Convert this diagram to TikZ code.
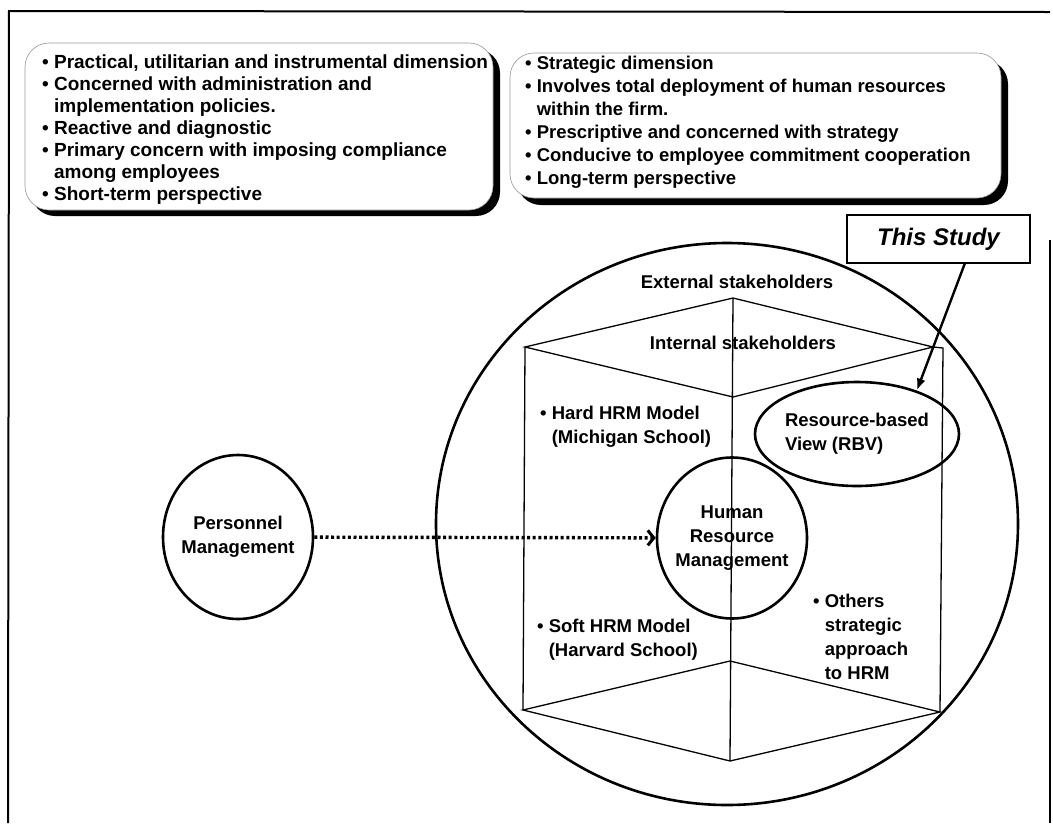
\documentclass[tikz,border=0pt]{standalone}
\usepackage{fontspec}
\setmainfont{Liberation Sans}
\usetikzlibrary{arrows.meta,shapes.geometric}
\newcommand\itemgap{\hphantom{•\ }}
\begin{document}
\begin{tikzpicture}[x=1pt,y=-1pt,
  label/.style={font=\bfseries\fontsize{18.5}{24}\selectfont, inner sep=0pt, align=left},
  listtext/.style={font=\bfseries\fontsize{19}{22}\selectfont, inner sep=0pt, align=left, anchor=west},
  ring/.style={draw, ellipse, line width=2.6pt, align=center, font=\bfseries\fontsize{18.5}{24}\selectfont},
  prism/.style={line width=1.3pt, line join=miter},
  frameline/.style={line width=2pt},
  shade/.style={fill=black, rounded corners=24pt},
  panel/.style={fill=white, draw=black!40, line width=0.6pt, rounded corners=24pt},
]
\fill[white] (0,0) rectangle (1053,823);
\useasboundingbox (0,0) rectangle (1053,823);

% page frame (open at the bottom)
\draw[frameline] (8,823) -- (9,11) -- (1050,12);
\draw[frameline] (1050,240) -- (1050,823);

% personnel management panel
\fill[shade] (31,49) rectangle (500,216);
\filldraw[panel] (25,43) rectangle (493,210);
\node[listtext] (pmlist) at (42,129.5) {%
• Practical, utilitarian and instrumental dimension\\
• Concerned with administration and\\
\itemgap implementation policies.\\
• Reactive and diagnostic\\
• Primary concern with imposing compliance\\
\itemgap among employees\\
• Short-term perspective};

% human resource management panel
\fill[shade] (517,60) rectangle (1008,205);
\filldraw[panel] (510,53) rectangle (1001,198);
\node[listtext, font=\bfseries\fontsize{18.5}{23}\selectfont] (hrmlist) at (525,122) {%
• Strategic dimension\\
• Involves total deployment of human resources\\
\itemgap within the firm.\\
• Prescriptive and concerned with strategy\\
• Conducive to employee commitment cooperation\\
• Long-term perspective};

% stakeholder circle
\node[ring, minimum width=582pt, minimum height=562pt] (outer) at (727,524) {};
\node[label] (ext) at (737,282) {External stakeholders};
\node[label] (int) at (743,343) {Internal stakeholders};

% prism of HRM approaches
\coordinate (tb) at (733,298);
\coordinate (tl) at (525,347);
\coordinate (tf) at (733,397);
\coordinate (tr) at (933,347);
\coordinate (tr2) at (943,348);
\coordinate (bl) at (523,710);
\coordinate (bb) at (730,661);
\coordinate (bf) at (730,761);
\coordinate (br) at (940,712);
\draw[prism] (tl) -- (tb) -- (tr) -- (tf) -- cycle;
\draw[prism] (tr) -- (tr2) -- (br);
\draw[prism] (tl) -- (bl);
\draw[prism] (bl) -- (bb) -- (br) -- (bf) -- cycle;
\draw[prism] (tb) -- (bf);

\node[label, anchor=west] (hard) at (540,426.5) {• Hard HRM Model\\\itemgap(Michigan School)};
\node[label, anchor=west] (soft) at (537,640) {• Soft HRM Model\\\itemgap(Harvard School)};
\node[label, anchor=west] (others) at (813,636.5) {• Others\\\itemgap strategic\\\itemgap approach\\\itemgap to HRM};

% management circles
\node[ring, inner sep=-4pt, minimum width=150pt, minimum height=161pt] (hrm) at (732,538) {Human\\Resource\\Management};
\node[ring, inner sep=-4pt, minimum width=150pt, minimum height=164pt] (pm) at (238,537) {Personnel\\Management};
\node[ring, inner sep=0pt, align=left, minimum width=204pt, minimum height=104pt] (rbv) at (857,434) {Resource-based\\View (RBV)};

% this study
\node[draw, line width=2pt, minimum width=183pt, minimum height=48pt, inner sep=0pt,
      font=\bfseries\itshape\fontsize{24}{28}\selectfont] (study) at (938.5,239) {This Study};
\coordinate (studyfoot) at (965,263);
\draw[line width=2.4pt, -{Latex[length=12pt,width=9pt]}] (studyfoot) -- (rbv.36);

% evolution arrow
\draw[line width=3.4pt, dash pattern=on 3pt off 2.6pt,
      -{Straight Barb[length=6pt,width=15pt,line width=3pt]}] (pm) -- (hrm);
\end{tikzpicture}
\end{document}
